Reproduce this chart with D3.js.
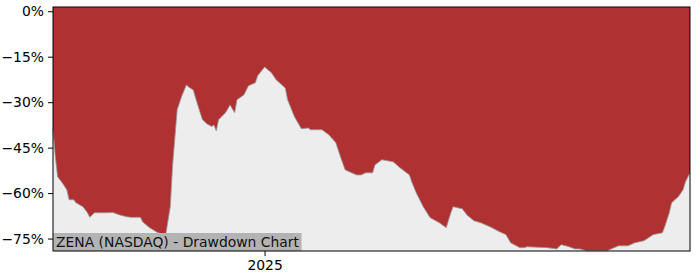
<!DOCTYPE html>
<html>
<head>
<meta charset="utf-8">
<script src="https://cdn.jsdelivr.net/npm/d3@7"></script>
<style>
	body { margin: 0; background: #fff; }
	svg text { font-family: "DejaVu Sans", sans-serif; }
</style>
</head>
<body>
<svg id="chart" width="700" height="280"></svg>
<script>
(function(){

	// drawdown series (percent below running peak)
	const dates = [
		"2024-10-01","2024-10-02","2024-10-03","2024-10-05","2024-10-07","2024-10-08","2024-10-10","2024-10-11",
		"2024-10-14","2024-10-15","2024-10-16","2024-10-17","2024-10-19","2024-10-24","2024-10-27","2024-10-30",
		"2024-11-02","2024-11-04","2024-11-08","2024-11-09","2024-11-12","2024-11-15","2024-11-18","2024-11-19",
		"2024-11-21","2024-11-22","2024-11-24","2024-11-26","2024-11-28","2024-11-29","2024-12-01","2024-12-02",
		"2024-12-04","2024-12-05","2024-12-07","2024-12-09","2024-12-10","2024-12-11","2024-12-12","2024-12-15",
		"2024-12-17","2024-12-19","2024-12-20","2024-12-23","2024-12-25","2024-12-28","2024-12-29","2025-01-01",
		"2025-01-04","2025-01-06","2025-01-10","2025-01-11","2025-01-14","2025-01-17","2025-01-20","2025-01-21",
		"2025-01-26","2025-01-29","2025-02-01","2025-02-03","2025-02-05","2025-02-07","2025-02-10","2025-02-12",
		"2025-02-14","2025-02-17","2025-02-18","2025-02-21","2025-02-24","2025-02-26","2025-03-01","2025-03-05",
		"2025-03-06","2025-03-08","2025-03-11","2025-03-14","2025-03-18","2025-03-21","2025-03-23","2025-03-24",
		"2025-03-28","2025-03-30","2025-04-02","2025-04-05","2025-04-09","2025-04-13","2025-04-16","2025-04-18",
		"2025-04-22","2025-04-24","2025-04-25","2025-05-04","2025-05-08","2025-05-10","2025-05-13","2025-05-16",
		"2025-05-18","2025-05-21","2025-05-30","2025-06-02","2025-06-04","2025-06-08","2025-06-11","2025-06-15",
		"2025-06-17","2025-06-19","2025-06-23","2025-06-24","2025-06-26","2025-06-27","2025-06-30","2025-07-02",
		"2025-07-03","2025-07-05"
	];
	const drawdown = [
		-39.0,-48.0,-54.6,-56.6,-58.9,-62.2,-62.2,-63.2,
		-64.5,-65.5,-66.5,-68.0,-66.5,-66.5,-66.4,-67.2,
		-67.8,-68.0,-68.0,-69.5,-71.4,-72.8,-73.8,-73.8,
		-64.5,-51.0,-32.5,-28.0,-24.3,-25.0,-26.0,-28.6,
		-33.5,-35.8,-37.2,-38.0,-37.5,-39.5,-35.8,-33.5,
		-30.9,-33.5,-29.2,-27.6,-24.6,-23.6,-21.3,-18.4,
		-20.3,-22.6,-25.3,-29.2,-34.8,-38.8,-38.5,-39.1,
		-39.1,-40.8,-43.4,-48.0,-52.3,-53.0,-54.0,-54.0,
		-53.3,-53.3,-50.7,-49.0,-49.4,-49.7,-51.7,-54.0,
		-56.3,-60.0,-64.5,-68.1,-69.8,-71.4,-66.5,-64.5,
		-65.2,-67.2,-69.1,-69.8,-71.1,-72.7,-73.7,-76.4,
		-78.0,-78.0,-77.7,-78.0,-78.4,-77.0,-77.6,-78.4,
		-78.4,-79.0,-79.0,-78.0,-77.4,-77.4,-76.4,-75.7,
		-74.7,-73.7,-73.1,-71.1,-66.5,-63.2,-61.1,-58.9,
		-56.3,-53.3
	];
	const yTicks = [0, -15, -30, -45, -60, -75];
	const xTicks = ["2025-01-01"];
	const title = "ZENA (NASDAQ) - Drawdown Chart";

	const fontSize = 13.9;
	const parse = d3.timeParse("%Y-%m-%d");
	const data = dates.map(function(d, i) { return { date: parse(d), v: drawdown[i] }; });

	const left = 53, right = 690, top = 7, bottom = 251;
	const svg = d3.select("#chart");

	const x = d3.scaleTime()
		.domain([parse(dates[0]), parse(dates[dates.length - 1])])
		.range([left, right]);
	const y = d3.scaleLinear()
		.domain([-79.1, 1.4])
		.range([bottom, top]);

	// plot background
	svg.append("rect")
		.attr("x", left).attr("y", top)
		.attr("width", right - left).attr("height", bottom - top)
		.attr("fill", "#ededed");

	// red area from the top down to the drawdown line
	const area = d3.area()
		.x(function(d) { return x(d.date); })
		.y0(top)
		.y1(function(d) { return y(d.v); });
	svg.append("path")
		.datum(data)
		.attr("d", area)
		.attr("fill", "#b03132");

	const line = d3.line()
		.x(function(d) { return x(d.date); })
		.y(function(d) { return y(d.v); });
	svg.append("path")
		.datum(data)
		.attr("d", line)
		.attr("fill", "none")
		.attr("stroke", "#999")
		.attr("stroke-width", 0.8);

	// title box in the lower left corner
	const label = svg.append("g");
	const labelText = label.append("text")
		.attr("x", left + 3)
		.attr("y", bottom - 4.5)
		.attr("font-size", fontSize)
		.attr("fill", "#111")
		.text(title);
	const bb = labelText.node().getBBox();
	label.insert("rect", "text")
		.attr("x", left)
		.attr("y", bottom - 18)
		.attr("width", bb.width + 5)
		.attr("height", 18)
		.attr("fill", "#b3b3b3");

	// frame
	svg.append("rect")
		.attr("x", left).attr("y", top)
		.attr("width", right - left).attr("height", bottom - top)
		.attr("fill", "none")
		.attr("stroke", "#000")
		.attr("stroke-width", 1);

	const fmt = function(d) { return (d < 0 ? "\u2212" + (-d) : d) + "%"; };
	const yAxis = d3.axisLeft(y).tickValues(yTicks).tickFormat(fmt).tickSize(5).tickPadding(4);
	const gy = svg.append("g").attr("transform", "translate(" + left + ",0)").call(yAxis);
	gy.select(".domain").remove();
	gy.selectAll("text").attr("font-size", fontSize).attr("fill", "#000").attr("font-family", "DejaVu Sans, sans-serif");

	const xAxis = d3.axisBottom(x).tickValues(xTicks.map(parse)).tickFormat(d3.timeFormat("%Y")).tickSize(5).tickPadding(4);
	const gx = svg.append("g").attr("transform", "translate(0," + bottom + ")").call(xAxis);
	gx.select(".domain").remove();
	gx.selectAll("text").attr("font-size", fontSize).attr("fill", "#000").attr("font-family", "DejaVu Sans, sans-serif");

}());
</script>
</body>
</html>
